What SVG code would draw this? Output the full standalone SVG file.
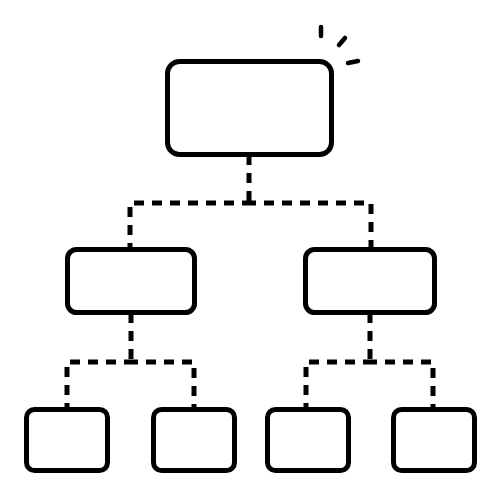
<svg xmlns="http://www.w3.org/2000/svg" width="500" height="500" viewBox="0 0 500 500">
<style>
.box{fill:#fff;stroke:#000;stroke-width:5}
.dash{fill:none;stroke:#000;stroke-width:5;stroke-dasharray:10 8}
.spark{stroke:#000;stroke-width:4.5;stroke-linecap:round}
</style>
<rect width="500" height="500" fill="#fff"/>
<g id="connectors">
<path class="dash" d="M249,157 V203" stroke-dashoffset="2"/>
<path class="dash" d="M249,203 H130 V249" stroke-dashoffset="3"/>
<path class="dash" d="M249,203 H371 V249" stroke-dashoffset="3"/>
<path class="dash" d="M131,315 V362" stroke-dashoffset="2"/>
<path class="dash" d="M131,362 H67 V407" stroke-dashoffset="3"/>
<path class="dash" d="M131,362 H194 V407" stroke-dashoffset="3"/>
<path class="dash" d="M370,315 V362" stroke-dashoffset="2"/>
<path class="dash" d="M370,362 H306 V407" stroke-dashoffset="3"/>
<path class="dash" d="M370,362 H433 V407" stroke-dashoffset="3"/>
</g>
<g id="root">
<rect class="box" x="167.5" y="61.5" width="164" height="93" rx="12"/>
<line class="spark" x1="321" y1="27" x2="321" y2="36"/>
<line class="spark" x1="345" y1="38" x2="339" y2="45"/>
<line class="spark" x1="348" y1="63" x2="358" y2="61"/>
</g>
<g id="mid-left"><rect class="box" x="67.5" y="249.5" width="127" height="63" rx="9"/></g>
<g id="mid-right"><rect class="box" x="305.5" y="249.5" width="129" height="63" rx="9"/></g>
<g id="leaf-1"><rect class="box" x="26.5" y="409.5" width="81" height="61" rx="8"/></g>
<g id="leaf-2"><rect class="box" x="153.5" y="409.5" width="81" height="61" rx="8"/></g>
<g id="leaf-3"><rect class="box" x="267.5" y="409.5" width="81" height="61" rx="8"/></g>
<g id="leaf-4"><rect class="box" x="393.5" y="409.5" width="81" height="61" rx="8"/></g>
</svg>
